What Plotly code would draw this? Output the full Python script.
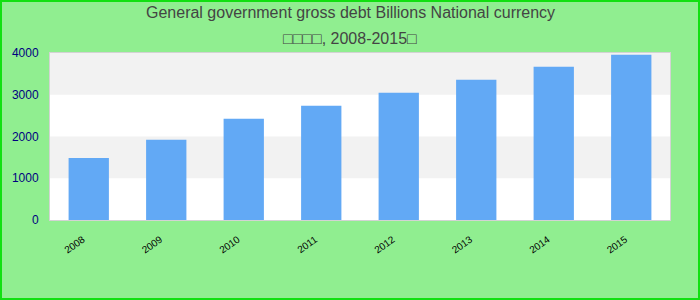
import plotly.graph_objects as go

years = ["2008", "2009", "2010", "2011", "2012", "2013", "2014", "2015"]
debt = [1488, 1920, 2424, 2736, 3045, 3360, 3672, 3960]
y_ticks = [0, 1000, 2000, 3000, 4000]
title_line1 = "General government gross debt Billions National currency"
title_line2 = "□□□□, 2008-2015□"

W, H = 700, 300
ML, MR, MT, MB = 50, 30, 53, 80
PW, PH = W - ML - MR, H - MT - MB


def py(y_px):
    return 1 + (MT - y_px) / PH


fig = go.Figure()
fig.add_trace(go.Bar(x=years, y=debt, marker=dict(color="#62A9F5", line=dict(width=0))))

shapes = []
for lo, hi in [(1000, 2000), (3000, 4000)]:
    shapes.append(dict(type="rect", xref="paper", yref="y", x0=0, x1=1, y0=lo, y1=hi,
                       fillcolor="#F2F2F2", line=dict(width=0), layer="below"))
# outer border of the whole figure
shapes.append(dict(type="rect", xref="paper", yref="paper",
                   x0=(-ML + 1) / PW, x1=(PW + MR - 1) / PW,
                   y0=(-MB + 1) / PH, y1=(PH + MT - 1) / PH,
                   line=dict(color="#11E011", width=2), fillcolor="rgba(0,0,0,0)", layer="above"))

annotations = [
    dict(text=title_line1, xref="paper", yref="paper", x=(350 - ML) / PW, y=py(13),
         xanchor="center", yanchor="middle", showarrow=False,
         font=dict(size=16, color="#444444")),
    dict(text=title_line2, xref="paper", yref="paper", x=(350 - ML) / PW, y=py(38),
         xanchor="center", yanchor="middle", showarrow=False,
         font=dict(size=16, color="#444444")),
]

fig.update_layout(
    width=W, height=H,
    margin=dict(l=ML, r=MR, t=MT, b=MB),
    paper_bgcolor="#90EE90",
    plot_bgcolor="#FFFFFF",
    font=dict(family="Liberation Sans, Arial, sans-serif"),
    bargap=0.48,
    showlegend=False,
    shapes=shapes,
    annotations=annotations,
)
fig.update_xaxes(tickangle=-35, tickfont=dict(size=10, color="#000000"),
                 showline=True, mirror=True, linecolor="#D3D3D3", linewidth=1,
                 showgrid=False, ticks="outside", ticklen=9,
                 tickcolor="rgba(0,0,0,0)", ticklabelshift=-6, fixedrange=True)
fig.update_yaxes(range=[0, 4000], tickvals=y_ticks, ticktext=[str(v) for v in y_ticks],
                 tickfont=dict(size=12, color="#000080"),
                 showline=True, mirror=True, linecolor="#D3D3D3", linewidth=1,
                 showgrid=False, zeroline=False, ticks="outside", ticklen=8,
                 tickcolor="rgba(0,0,0,0)", fixedrange=True)

fig.write_html("out.html")
